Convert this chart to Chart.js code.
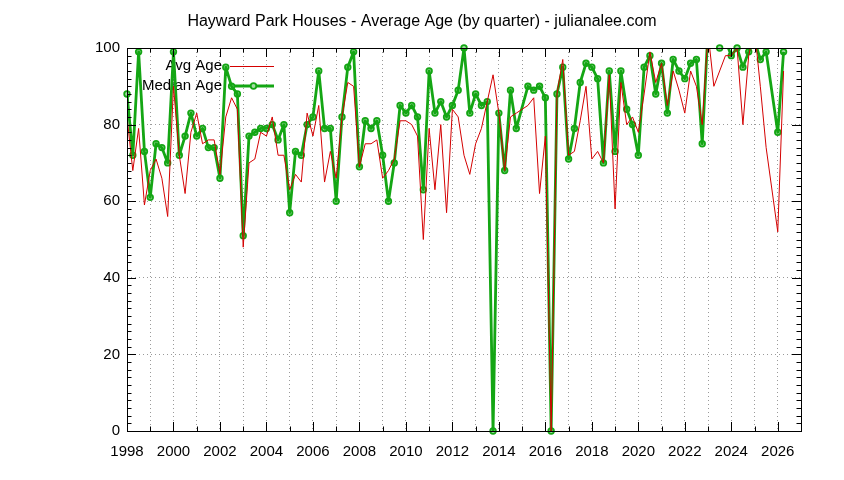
<!DOCTYPE html>
<html>
<head>
<meta charset="utf-8">
<script src="https://cdn.jsdelivr.net/npm/chart.js@4/dist/chart.umd.min.js"></script>
<style>
  html, body { margin:0; padding:0; background:#fff; }
  #wrap { width:844px; height:480px; }
</style>
</head>
<body>
<div id="wrap"><canvas id="age-chart" width="844" height="480"></canvas></div>
<script>
/* ----------------------------------------------------------
   Data – one value per quarter, starting 1998 Q1
   ---------------------------------------------------------- */
const START_YEAR = 1998;
const TITLE = 'Hayward Park Houses - Average Age (by quarter) - julianalee.com';
const SERIES_NAMES = ['Avg Age', 'Median Age'];
const X_TICKS = [1998, 2000, 2002, 2004, 2006, 2008, 2010, 2012, 2014, 2016, 2018, 2020, 2022, 2024, 2026];
const Y_TICKS = [0, 20, 40, 60, 80, 100];

const avgAge = [
  82, 68, 79, 59,   68, 71, 66, 56,   90, 72, 62, 78,   83, 75, 76, 76,
  67, 82, 87, 84,   48, 70, 71, 78,   77, 82, 72, 72,   63, 67, 65, 83,
  77, 85, 65, 73,   66, 82, 91, 90,   69, 75, 75, 76,   66, 68, 71, 81,
  81, 80, 77, 50,   79, 63, 80, 57,   84, 82, 72, 67,   75, 79, 86, 93,
  83, 68, 82, 83,   null, 85, 87, 62, 77, 0, 88, 97,    72, 73, 81, 90,
  71, 73, 70, 93,   58, 91, 80, 82,   78, 88, 99, 91,   96, 85, 94, 89,
  83, 94, 90, 80,   104, 90, 94, 98, 98, 100, 80, 98,  105, 90, 74, null,
  52, 94,
];

const medianAge = [
  88, 72, 99, 73,   61, 75, 74, 70,   99, 72, 77, 83,   77, 79, 74, 74,
  66, 95, 90, 88,   51, 77, 78, 79,   79, 80, 76, 80,   57, 73, 72, 80,
  82, 94, 79, 79,   60, 82, 95, 99,   69, 81, 79, 81,   72, 60, 70, 85,
  83, 85, 82, 63,   94, 83, 86, 82,   85, 89, 100, 83,  88, 85, 86, 0,
  83, 68, 89, 79,   null, 90, 89, 90, 87, 0, 88, 95,    71, 79, 91, 96,
  95, 92, 70, 94,   73, 94, 84, 80,   72, 95, 98, 88,   96, 83, 97, 94,
  92, 96, 97, 75,   105, 103, 100, 102, 98, 100, 95, 99, 102, 97, 99, null,
  78, 99,
];

const RED   = '#d40000';
const GREEN = '#14a614';
const FONT  = '"Liberation Sans", Arial, sans-serif';

const toPoints = arr => arr.map((v, i) => ({ x: START_YEAR + i / 4, y: v }));

/* ----------------------------------------------------------
   gnuplot-ish frame: title, key, border, inward tics
   ---------------------------------------------------------- */
const gnuFrame = {
  id: 'gnuFrame',
  beforeDatasetsDraw(chart) {
    const ctx = chart.ctx;
    ctx.save();
    ctx.font = `15px ${FONT}`;
    ctx.fillStyle = '#000';
    ctx.textAlign = 'right';
    ctx.textBaseline = 'middle';
    ctx.fillText(SERIES_NAMES[0], 222, 66);
    ctx.fillText(SERIES_NAMES[1], 222, 86);
    ctx.strokeStyle = RED; ctx.lineWidth = 1;
    ctx.beginPath(); ctx.moveTo(230, 66.5); ctx.lineTo(274, 66.5); ctx.stroke();
    ctx.strokeStyle = GREEN; ctx.lineWidth = 2.8;
    ctx.beginPath(); ctx.moveTo(230, 86); ctx.lineTo(274, 86); ctx.stroke();
    ctx.lineWidth = 1.8; ctx.fillStyle = '#a6dca6';
    ctx.beginPath(); ctx.arc(253.5, 86, 2.8, 0, Math.PI * 2); ctx.fill(); ctx.stroke();
    ctx.restore();
  },
  afterDatasetsDraw(chart) {
    const { ctx, chartArea: a, scales: { x, y } } = chart;
    ctx.save();
    ctx.strokeStyle = '#000';
    ctx.lineWidth = 1;
    ctx.beginPath();
    for (let yr = 1998; yr <= 2027; yr++) {
      const px = Math.round(x.getPixelForValue(yr)) + 0.5;
      const len = yr % 2 === 0 ? 9 : 4.5;
      ctx.moveTo(px, a.bottom); ctx.lineTo(px, a.bottom - len);
      ctx.moveTo(px, a.top);    ctx.lineTo(px, a.top + len);
    }
    for (let v = 0; v <= 100; v += 2) {
      const py = Math.round(y.getPixelForValue(v)) + 0.5;
      const len = v % 20 === 0 ? 9 : 4.5;
      ctx.moveTo(a.left, py);  ctx.lineTo(a.left + len, py);
      ctx.moveTo(a.right, py); ctx.lineTo(a.right - len, py);
    }
    ctx.stroke();
    ctx.strokeRect(Math.round(a.left) + 0.5, Math.round(a.top) + 0.5,
                   Math.round(a.right - a.left), Math.round(a.bottom - a.top));
    ctx.restore();
  },
  afterDraw(chart) {
    const ctx = chart.ctx;
    ctx.save();
    ctx.font = `16px ${FONT}`;
    ctx.fillStyle = '#000';
    ctx.textAlign = 'center';
    ctx.textBaseline = 'alphabetic';
    ctx.fillText(TITLE, 422, 26);
    ctx.restore();
  },
};

/* ----------------------------------------------------------
   Chart
   ---------------------------------------------------------- */
new Chart(document.getElementById('age-chart'), {
  type: 'line',
  data: {
    datasets: [
      { label: SERIES_NAMES[0], data: toPoints(avgAge),
        borderColor: RED, borderWidth: 1, pointRadius: 0,
        spanGaps: true, tension: 0, clip: 0 },
      { label: SERIES_NAMES[1], data: toPoints(medianAge),
        borderColor: GREEN, borderWidth: 2.8, pointRadius: 0,
        borderJoinStyle: 'round', spanGaps: true, tension: 0, clip: 0 },
      { label: 'median points', data: toPoints(medianAge),
        showLine: false, clip: false,
        pointRadius: c => (c.raw && c.raw.y > 100) ? 0 : 2.8,
        pointBorderWidth: 1.8, pointBorderColor: GREEN, pointBackgroundColor: '#a6dca6' },
    ],
  },
  options: {
    responsive: false,
    animation: false,
    devicePixelRatio: 1,
    layout: { padding: { top: 48, right: 43, left: 0, bottom: 0 } },
    plugins: { legend: { display: false }, title: { display: false }, tooltip: { enabled: false } },
    scales: {
      x: {
        type: 'linear', min: 1998, max: 2027,
        afterFit: s => { s.height = 49; },
        ticks: {
          stepSize: 1, autoSkip: false, maxRotation: 0, padding: 12,
          color: '#000', font: { family: FONT, size: 15 },
          callback: v => X_TICKS.includes(v) ? String(v) : '',
        },
        grid: { color: '#9a9a9a', lineWidth: 1, drawTicks: false },
        border: { display: false, dash: [1, 3] },
      },
      y: {
        min: 0, max: 100,
        afterFit: s => { s.width = 127; },
        afterBuildTicks: s => { s.ticks = Y_TICKS.map(v => ({ value: v })); },
        ticks: {
          padding: 7, color: '#000', font: { family: FONT, size: 15 },
        },
        grid: { color: '#9a9a9a', lineWidth: 1, drawTicks: false },
        border: { display: false, dash: [1, 3] },
      },
    },
  },
  plugins: [gnuFrame],
});
</script>
</body>
</html>
